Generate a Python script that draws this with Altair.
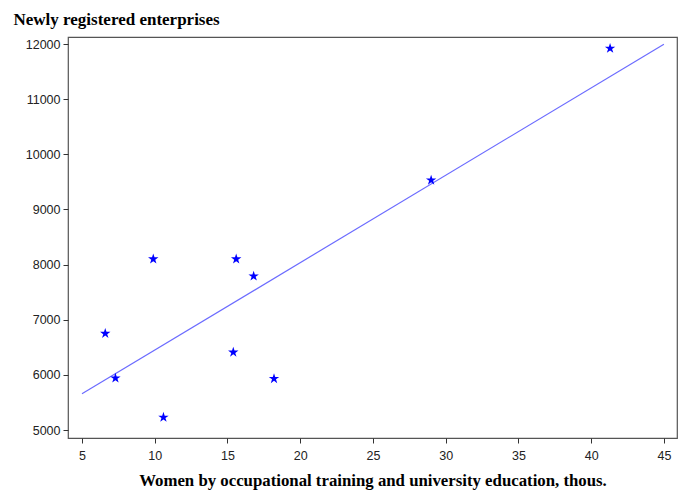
import altair as alt
import pandas as pd

women = [41.3, 29.0, 6.6, 7.3, 9.9, 10.6, 15.6, 16.8, 15.4, 18.2]
enterprises = [11920, 9530, 6750, 5940, 8100, 5230, 8100, 7790, 6410, 5930]

df = pd.DataFrame({"women": women, "enterprises": enterprises})

star = ("M0,-1 L0.2245,-0.309 L0.951,-0.309 L0.363,0.118 L0.588,0.809 "
        "L0,0.382 L-0.588,0.809 L-0.363,0.118 L-0.951,-0.309 L-0.2245,-0.309 Z")

xs = alt.Scale(domain=[4.04, 45.9], nice=False, zero=False)
ys = alt.Scale(domain=[4855, 12127], nice=False, zero=False)

xaxis = alt.Axis(values=list(range(5, 50, 5)), title="Women by occupational training and university education, thous.",
                 grid=False, domain=False, tickSize=5, tickColor="#333", labelFont="Liberation Sans",
                 labelFontSize=12.5, labelColor="#222", labelPadding=6,
                 titleFont="Liberation Serif", titleFontSize=16.8, titleFontWeight="bold", titleColor="black",
                 titlePadding=11)
yaxis = alt.Axis(values=list(range(5000, 13000, 1000)), title="Newly registered enterprises",
                 grid=False, domain=False, tickSize=5, tickColor="#333", labelFont="Liberation Sans",
                 labelFontSize=12.5, labelColor="#222", labelPadding=3, format="d",
                 titleFont="Liberation Serif", titleFontSize=17, titleFontWeight="bold", titleColor="black",
                 titleAngle=0, titleAlign="left", titleBaseline="alphabetic", titleX=-55, titleY=-13)

points = alt.Chart(df).mark_point(shape=star, filled=True, color="#0000ff", size=120, opacity=1).encode(
    x=alt.X("women:Q", scale=xs, axis=xaxis),
    y=alt.Y("enterprises:Q", scale=ys, axis=yaxis),
)

line = alt.Chart(df).transform_regression("women", "enterprises", extent=[5, 45]).mark_line(
    color="#6b6bff", strokeWidth=1.2).encode(
    x=alt.X("women:Q", scale=xs),
    y=alt.Y("enterprises:Q", scale=ys),
)

chart = alt.layer(line, points).properties(
    width=609, height=401,
    autosize=alt.AutoSizeParams(type="none"),
    padding={"left": 60, "top": 29, "right": 7, "bottom": 54},
    background="white",
).configure_view(stroke="#555", strokeWidth=1.2)

chart.save("out.html", embed_options={"renderer": "svg", "actions": False})
